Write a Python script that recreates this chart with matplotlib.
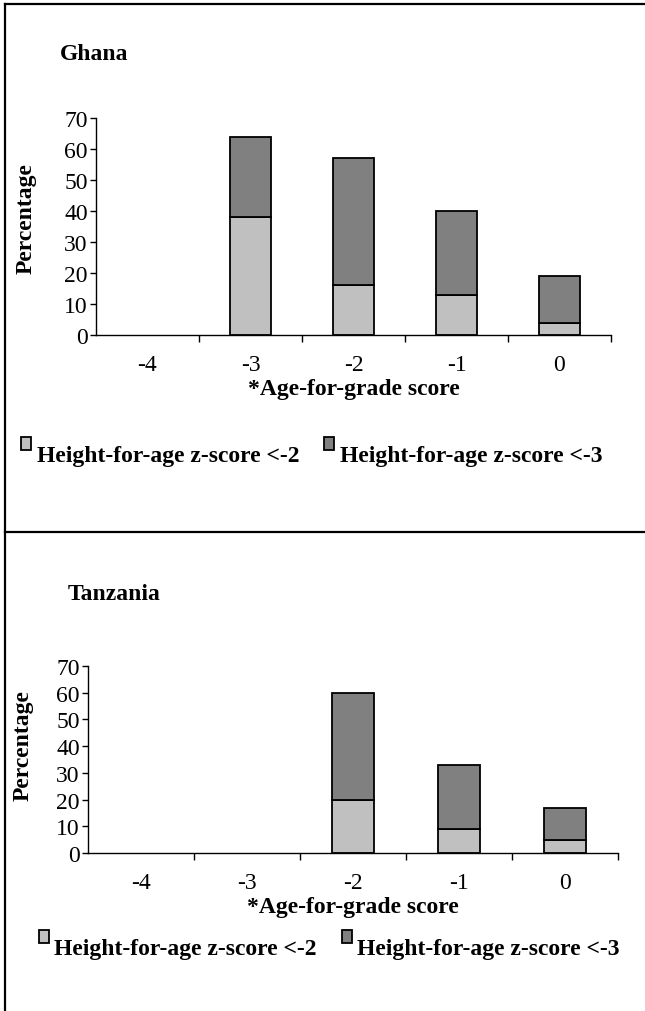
import numpy as np
import matplotlib
matplotlib.use("Agg")
import matplotlib.pyplot as plt
from matplotlib.lines import Line2D
from matplotlib.patches import Rectangle
from matplotlib.container import BarContainer
from matplotlib.legend_handler import HandlerPatch, update_from_first_child

plt.rcParams['font.family'] = ['Liberation Serif', 'DejaVu Serif']

# Datos (segmentos apilados)
scores = ['-4', '-3', '-2', '-1', '0']
series_names = ['Height-for-age z-score <-2', 'Height-for-age z-score <-3']

ghana_light = [0, 38, 16, 13, 4]
ghana_dark = [0, 26, 41, 27, 15]

tanzania_light = [0, 0, 20, 9, 5]
tanzania_dark = [0, 0, 40, 24, 12]

W, H = 645, 1012
FS = 17
LIGHT = '#C0C0C0'
DARK = '#808080'


def fx(px):
    return px / W


def fy(py):
    return 1 - py / H


# cuadrito de la leyenda un poco elevado, como en el original
def raised_box(legend, orig_handle, xdescent, ydescent, width, height, fontsize):
    return Rectangle((-xdescent, -ydescent + 0.42 * fontsize), width, height)


handler = {BarContainer: HandlerPatch(patch_func=raised_box,
                                      update_func=update_from_first_child)}


def panel(fig, rect, light, dark, title, title_pos, ylab_pos, leg_pos, hpad, cspace):
    ax = fig.add_axes(rect)
    x = np.arange(len(scores))
    light = np.array(light, dtype=float)
    dark = np.array(dark, dtype=float)
    m = (light + dark) > 0
    b1 = ax.bar(x[m], light[m], 0.4, color=LIGHT, edgecolor='black', linewidth=1.3)
    b2 = ax.bar(x[m], dark[m], 0.4, bottom=light[m], color=DARK, edgecolor='black', linewidth=1.3)

    ax.set_xlim(-0.5, len(scores) - 0.5)
    ax.set_ylim(0, 70)
    ax.set_yticks(range(0, 71, 10))
    ax.tick_params(axis='y', labelsize=FS, length=4, width=1, pad=2)

    # marcas en los límites de categoría, etiquetas al centro
    ax.set_xticks(x + 0.5)
    ax.set_xticklabels([])
    ax.set_xticks(x, minor=True)
    ax.set_xticklabels(scores, minor=True)
    ax.tick_params(axis='x', which='major', length=5, width=1)
    ax.tick_params(axis='x', which='minor', length=0, labelsize=FS, pad=14)

    for s in ['top', 'right']:
        ax.spines[s].set_visible(False)
    for s in ['left', 'bottom']:
        ax.spines[s].set_linewidth(1)

    ax.set_xlabel('*Age-for-grade score', fontsize=FS, fontweight='bold', labelpad=2)
    ax.set_ylabel('Percentage', fontsize=FS, fontweight='bold')
    ax.yaxis.set_label_coords(*ylab_pos)

    fig.text(fx(title_pos[0]), fy(title_pos[1]), title, fontsize=FS,
             fontweight='bold', ha='left', va='center')

    ax.legend([b1, b2], series_names, ncol=2, frameon=False,
              loc='center left', bbox_to_anchor=(fx(leg_pos[0]), fy(leg_pos[1])),
              bbox_transform=fig.transFigure, borderpad=0, borderaxespad=0,
              handlelength=0.42, handleheight=0.48, handletextpad=hpad,
              columnspacing=cspace, handler_map=handler,
              prop={'size': FS, 'weight': 'bold'})
    return ax


fig = plt.figure(figsize=(W / 100, H / 100), dpi=100)

# Ghana
panel(fig, [fx(96), fy(336), (611 - 96) / W, (336 - 119) / H],
      ghana_light, ghana_dark, 'Ghana', (60, 55),
      (-0.115, 0.54), (21, 457), 0.25, 1.05)

# Tanzania
panel(fig, [fx(88), fy(854), (618 - 88) / W, (854 - 667) / H],
      tanzania_light, tanzania_dark, 'Tanzania', (68, 595),
      (-0.102, 0.58), (39, 950), 0.2, 1.1)

# marco de los paneles
for xs, ys in [([5, W], [5, 5]), ([5, 5], [5, H]), ([5, W], [533, 533])]:
    fig.add_artist(Line2D([fx(v) for v in xs], [fy(v) for v in ys],
                          transform=fig.transFigure, color='black', linewidth=1.6))

fig.savefig('out.png', dpi=100)
